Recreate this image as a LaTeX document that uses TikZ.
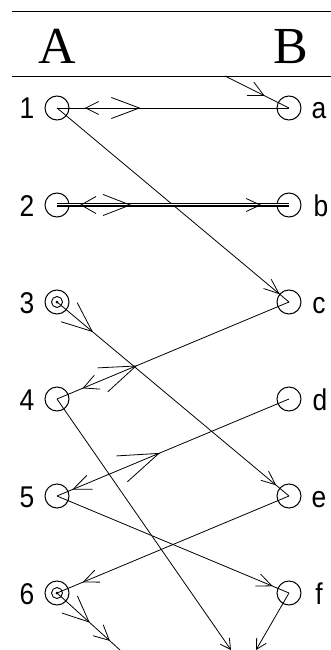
\documentclass[tikz,border=0pt]{standalone}
\usepackage{fontspec}
\setmainfont{Liberation Serif}
\setsansfont{Liberation Sans}
\usetikzlibrary{arrows.meta}
\usetikzlibrary{decorations.markings}

\newcommand{\lbl}[1]{\scalebox{0.88}[1]{\sffamily #1}}

\begin{document}
\begin{tikzpicture}[
    x=1pt, y=-1pt,
    line width=0.8pt,
    place/.style={circle, draw, line width=1pt, minimum size=24pt, inner sep=0pt},
    marked/.style={place, path picture={
        \draw[line width=0.9pt] (path picture bounding box.center) circle (5.5pt);
        \fill (path picture bounding box.center) circle (1.5pt);}},
    lab/.style={font=\fontsize{30}{30}\selectfont, anchor=base, inner sep=0pt},
    colhead/.style={font=\fontsize{52}{52}\selectfont, anchor=base, inner sep=0pt},
    tipat/.style n args={3}{postaction={decorate, decoration={markings,
        mark=at position #1 with {\arrow{Straight Barb[length=#2pt, width=#3pt]}}}}},
    tipback/.style n args={3}{postaction={decorate, decoration={markings,
        mark=at position #1 with {\arrowreversed{Straight Barb[length=#2pt, width=#3pt]}}}}},
    endtip/.style={-{Straight Barb[length=10pt, width=11pt]}},
  ]

  \useasboundingbox (0,0) rectangle (331,650);

  % header
  \draw (12,11) -- (331,11);
  \draw (12,76) -- (331,76);
  \node[colhead] (hA) at (57,64)  {A};
  \node[colhead] (hB) at (291,64) {B};

  \node[place]  (n1) at (57,108) {};
  \node[place]  (n2) at (57,205) {};
  \node[marked] (n3) at (57,302) {};
  \node[place]  (n4) at (57,399) {};
  \node[place]  (n5) at (57,496) {};
  \node[marked] (n6) at (57,593) {};

  \node[place] (na) at (289,108) {};
  \node[place] (nb) at (289,205) {};
  \node[place] (nc) at (289,302) {};
  \node[place] (nd) at (289,399) {};
  \node[place] (ne) at (289,496) {};
  \node[place] (nf) at (289,593) {};

  \node[lab] (l1) at (27,119) {\lbl{1}};
  \node[lab] (l2) at (27,216) {\lbl{2}};
  \node[lab] (l3) at (27,313) {\lbl{3}};
  \node[lab] (l4) at (27,410) {\lbl{4}};
  \node[lab] (l5) at (27,507) {\lbl{5}};
  \node[lab] (l6) at (27,604) {\lbl{6}};

  \node[lab] (la) at (319,119) {\lbl{a}};
  \node[lab] (lb) at (321,216) {\lbl{b}};
  \node[lab] (lc) at (319,313) {\lbl{c}};
  \node[lab] (ld) at (320,410) {\lbl{d}};
  \node[lab] (le) at (319,507) {\lbl{e}};
  \node[lab] (lf) at (319,604) {\lbl{f}};

  \coordinate (in)   at (225,76);
  \coordinate (out6) at (120,650);
  \coordinate (out4) at (231,650);
  \coordinate (outf) at (256,650);

  \draw[tipat={0.62}{15}{15}] (in) -- (na.center);
  \draw[tipback={0.12}{13}{13}, tipat={0.36}{28}{21}] (n1.center) -- (na.center);
  \draw[tipat={0.96}{15}{12}] (n1.center) -- (nc.center);
  \draw[double, double distance=2.5pt] (n2.center) -- (nb.center);
  \draw[tipback={0.10}{15}{17}, tipat={0.32}{27}{21}, tipat={0.88}{14}{13}]
    (n2.center) -- (nb.center);  % double
  \draw[tipat={0.155}{30}{25}, tipat={0.945}{14}{12}] (n3.center) -- (ne.center);
  \draw[tipback={0.655}{36}{26}, tipat={0.89}{15}{15}] (nc.center) -- (n4.center);
  \draw[tipback={0.556}{40}{28}, tipat={0.935}{18}{15}] (nd.center) -- (n5.center);
  \draw[endtip] (n4.center) -- (out4);
  \draw[tipat={0.93}{15}{13}] (n5.center) -- (nf.center);
  \draw[tipat={0.89}{15}{13}] (ne.center) -- (n6.center);
  \draw[tipat={0.52}{26}{23}, tipat={0.84}{15}{15}] (n6.center) -- (out6);
  \draw[endtip] (nf.center) -- (outf);

\end{tikzpicture}
\end{document}
